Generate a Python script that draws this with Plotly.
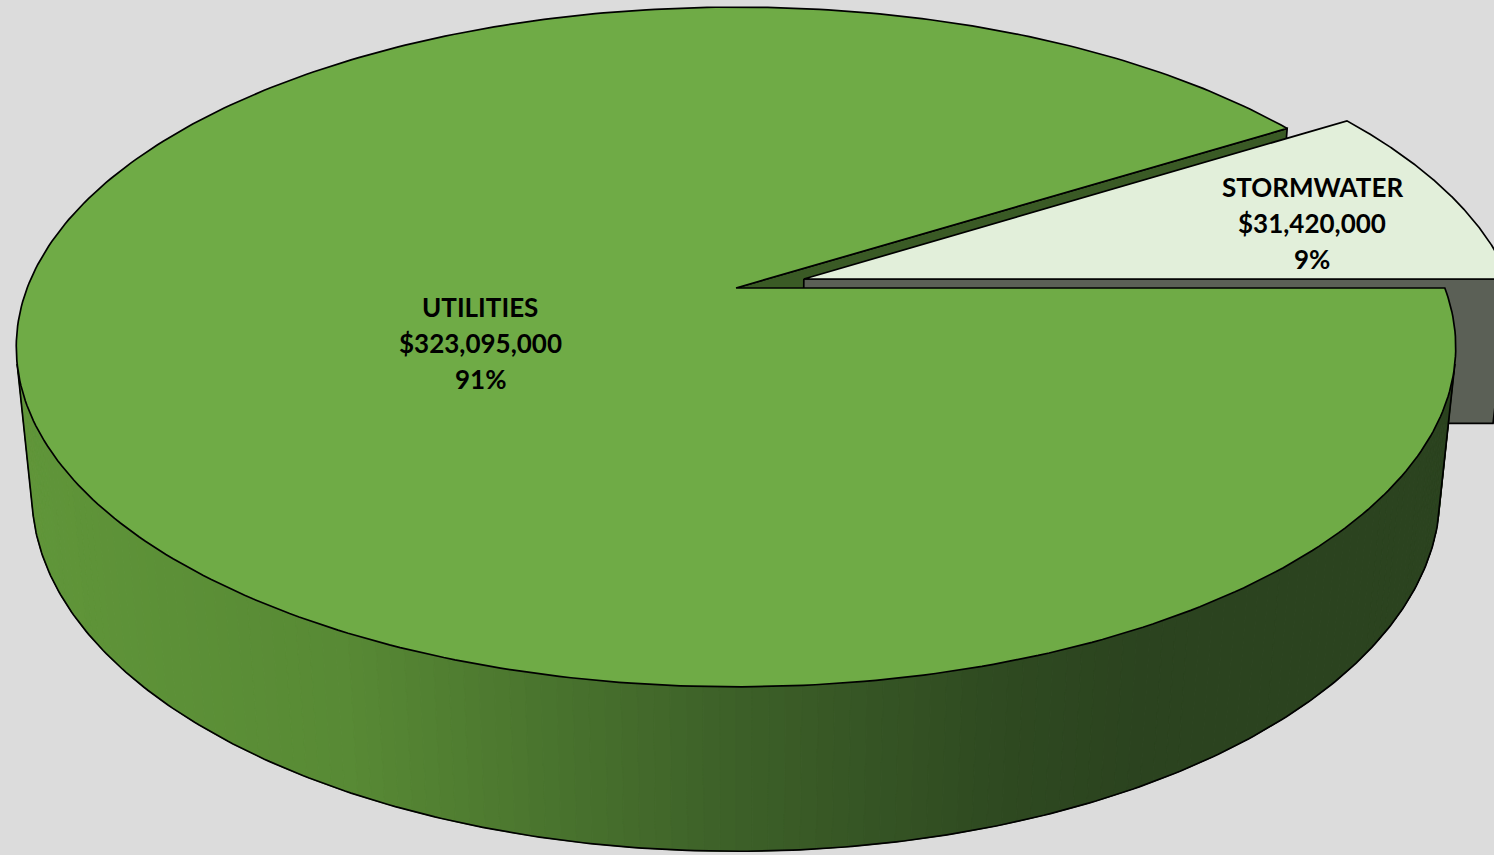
import numpy as np
import plotly.graph_objects as go

# ---------------- data ----------------
categories = ["UTILITIES", "STORMWATER"]
values = [323095000, 31420000]
pull = [0.0, 0.1]
top_colors = ["#6fab46", "#e2efda"]
face_colors = ["#3a5a25", "#5b6056"]

# ---------------- view / projection settings ----------------
W, H = 1494, 855
CX, CY = 736, 288          # screen position of pie centre
F = 3615.0                 # focal length in px (pie radius = 1)
D = 5.1                    # camera distance
S, C = 0.465, 0.885        # sin / cos of elevation
TH = 0.236                 # pie thickness
BG = "#dcdcdc"
LW = 1.7


def proj(x, y, z):
    x = np.asarray(x, float); y = np.asarray(y, float); z = np.asarray(z, float)
    d = D + y * C - z * S
    u = y * S + z * C
    return CX + F * x / d, CY - F * u / d


total = float(sum(values))
spans = []
hi = 2 * np.pi
for v in values:
    lo = hi - v / total * 2 * np.pi
    spans.append((lo, hi))
    hi = lo

fig = go.Figure()


def poly(xs, ys, fill, line_color="black", lw=LW):
    fig.add_trace(go.Scatter(x=list(xs) + [xs[0]], y=list(ys) + [ys[0]], mode="lines",
                             fill="toself", fillcolor=fill,
                             line=dict(color=line_color, width=lw),
                             hoverinfo="skip", showlegend=False))


def line(xs, ys, lw=LW):
    fig.add_trace(go.Scatter(x=list(xs), y=list(ys), mode="lines",
                             line=dict(color="black", width=lw),
                             hoverinfo="skip", showlegend=False))


def side_color(sx):
    stops_x = [0, 350, 720, 1000, 1150, 1494]
    stops = [(97, 151, 58), (88, 138, 53), (62, 98, 41), (47, 74, 33), (43, 67, 31), (43, 67, 31)]
    r = np.interp(sx, stops_x, [s[0] for s in stops])
    g = np.interp(sx, stops_x, [s[1] for s in stops])
    b = np.interp(sx, stops_x, [s[2] for s in stops])
    return f"rgb({int(r)},{int(g)},{int(b)})"


CAM = np.array([0.0, -D * C, D * S])
vis_a = np.pi + np.arcsin(1.0 / (D * C))
vis_b = 2 * np.pi - np.arcsin(1.0 / (D * C))


def offset(i):
    lo, hi = spans[i]
    m = 0.5 * (lo + hi)
    return pull[i] * np.cos(m), pull[i] * np.sin(m)


def radial_faces(i):
    lo, hi = spans[i]
    ox, oy = offset(i)
    for ang, nrm in ((lo, (np.sin(lo), -np.cos(lo))), (hi, (-np.sin(hi), np.cos(hi)))):
        vis = (CAM[0] - ox) * nrm[0] + (CAM[1] - oy) * nrm[1]
        if vis > 0:
            xs = [ox, ox + np.cos(ang), ox + np.cos(ang), ox]
            ys = [oy, oy + np.sin(ang), oy + np.sin(ang), oy]
            zs = [0, 0, -TH, -TH]
            px, py = proj(xs, ys, zs)
            poly(px, py, face_colors[i])


def curved_side(i):
    lo, hi = spans[i]
    a, b = max(lo, vis_a), min(hi, vis_b)
    if a >= b:
        return
    ox, oy = offset(i)
    n = 140
    th = np.linspace(a, b, n + 1)
    for k in range(n):
        t = np.array([th[k], th[k + 1], th[k + 1], th[k]])
        z = np.array([0, 0, -TH, -TH])
        px, py = proj(ox + np.cos(t), oy + np.sin(t), z)
        col = side_color(px.mean())
        fig.add_trace(go.Scatter(x=list(px) + [px[0]], y=list(py) + [py[0]], mode="lines",
                                 fill="toself", fillcolor=col, line=dict(color=col, width=1),
                                 hoverinfo="skip", showlegend=False))
    tb = np.linspace(b, a, 300)
    bx, by = proj(ox + np.cos(tb), oy + np.sin(tb), np.full_like(tb, -TH))
    ta_x, ta_y = proj(ox + np.cos(a), oy + np.sin(a), 0)
    tb_x, tb_y = proj(ox + np.cos(b), oy + np.sin(b), 0)
    line([float(tb_x)] + list(bx) + [float(ta_x)], [float(tb_y)] + list(by) + [float(ta_y)])


def top_face(i):
    lo, hi = spans[i]
    ox, oy = offset(i)
    t = np.linspace(lo, hi, 400)
    xs = np.concatenate([[ox], ox + np.cos(t)])
    ys = np.concatenate([[oy], oy + np.sin(t)])
    px, py = proj(xs, ys, np.zeros_like(xs))
    poly(px, py, top_colors[i])


# painter's order: utilities cut face, exploded stormwater, then utilities body
radial_faces(0)
radial_faces(1)
curved_side(1)
top_face(1)
curved_side(0)
top_face(0)

# ---------------- labels ----------------
pcts = [round(v / total * 100) for v in values]
label_pos = [(480, 307), (1312, 187)]
for i, cat in enumerate(categories):
    lx, ly = label_pos[i]
    for j, txt in enumerate([cat, f"${values[i]:,}", f"{pcts[i]}%"]):
        fig.add_annotation(x=lx, y=ly + 36 * j, text=f"<b>{txt}</b>", showarrow=False,
                           font=dict(family="Lato", size=26, color="black"),
                           xanchor="center", yanchor="middle")

fig.update_layout(
    width=W, height=H, margin=dict(l=0, r=0, t=0, b=0),
    paper_bgcolor=BG, plot_bgcolor=BG, showlegend=False,
    xaxis=dict(range=[0, W], visible=False, fixedrange=True),
    yaxis=dict(range=[H, 0], visible=False, fixedrange=True),
)
fig.write_html("out.html")
